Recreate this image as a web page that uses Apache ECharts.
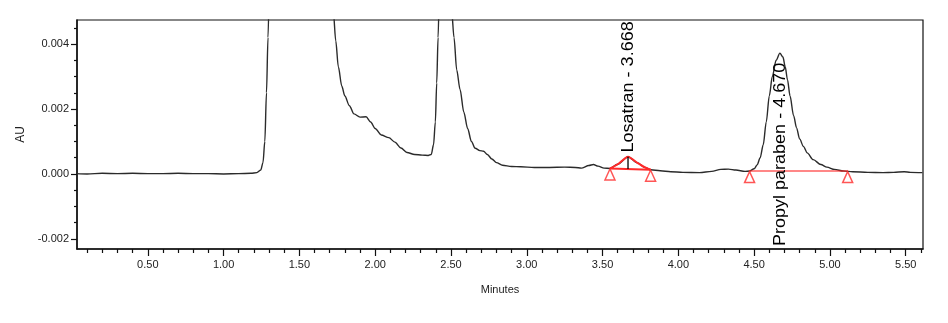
<!DOCTYPE html>
<html>
<head>
<meta charset="utf-8">
<script src="https://cdn.jsdelivr.net/npm/echarts@6.0.0/dist/echarts.min.js"></script>
<style>
  html, body { margin: 0; padding: 0; background: #fff; }
  #chart { width: 948px; height: 323px; }
</style>
</head>
<body>
<div id="chart"></div>
<script>
// detector trace (minutes / AU)
const minutes = [
  0.03, 0.10, 0.20, 0.30, 0.40, 0.50, 0.60, 0.70, 0.80, 0.90, 1.00, 1.10, 1.18, 1.22,
  1.245, 1.26, 1.272, 1.283, 1.293, 1.305, 1.33, 1.45, 1.60, 1.70, 1.724, 1.74, 1.757,
  1.78, 1.80, 1.83, 1.86, 1.90, 1.94, 1.97, 2.00, 2.04, 2.09, 2.13, 2.17, 2.21, 2.26,
  2.31, 2.35, 2.37, 2.385, 2.397, 2.406, 2.415, 2.425, 2.44, 2.47, 2.495, 2.505, 2.52,
  2.538, 2.56, 2.585, 2.61, 2.635, 2.66, 2.69, 2.715, 2.74, 2.77, 2.80, 2.84, 2.90,
  2.96, 3.05, 3.15, 3.25, 3.32, 3.36, 3.41, 3.44, 3.47, 3.51, 3.549, 3.60, 3.668,
  3.73, 3.78, 3.817, 3.88, 3.95, 4.03, 4.14, 4.22, 4.28, 4.33, 4.38, 4.44, 4.47, 4.50,
  4.52, 4.54, 4.56, 4.58, 4.60, 4.62, 4.645, 4.67, 4.69, 4.705, 4.72, 4.737, 4.76,
  4.78, 4.80, 4.825, 4.85, 4.89, 4.94, 4.98, 5.03, 5.09, 5.15, 5.25, 5.35, 5.42,
  5.49, 5.53, 5.61
];
const au = [
  0.00001, 0.00000, 0.00002, 0.00001, 0.00002, 0.00001, 0.00001, 0.00002, 0.00001, 0.00001, 0.00000, 0.00001, 0.00002, 0.00004,
  0.00012, 0.00035, 0.0010, 0.0025, 0.0042, 0.0065, 0.012, 0.03, 0.03, 0.009, 0.0050, 0.0041, 0.0033,
  0.0027, 0.0024, 0.0021, 0.00185, 0.00175, 0.00176, 0.0016, 0.0014, 0.0012, 0.00112, 0.00098, 0.0008, 0.00066, 0.00060,
  0.00058, 0.00057, 0.0006, 0.0009, 0.0016, 0.0028, 0.0042, 0.006, 0.012, 0.025, 0.008, 0.0050, 0.0042,
  0.0032, 0.0026, 0.0019, 0.0014, 0.0010, 0.00079, 0.00072, 0.0007, 0.0006, 0.00046, 0.00035, 0.00027, 0.00023,
  0.00022, 0.00020, 0.00020, 0.00021, 0.00020, 0.00018, 0.00026, 0.00029, 0.00024, 0.00018, 0.00017, 0.00030, 0.00053,
  0.00034, 0.00020, 0.00013, 0.00010, 0.00007, 0.00005, 0.00004, 0.00008, 0.00014, 0.00015, 0.00012, 0.00008, 0.00009, 0.00016,
  0.00028, 0.00050, 0.00090, 0.0016, 0.0024, 0.0030, 0.0035, 0.00372, 0.0036, 0.0033, 0.0029, 0.0024, 0.0018,
  0.00142, 0.00108, 0.00085, 0.00065, 0.00044, 0.00029, 0.00021, 0.00014, 0.00009, 0.00007, 0.00005, 0.00004, 0.00005,
  0.00007, 0.00005, 0.00004
];

// integrated peaks
const peakNames = ["Losatran", "Propyl paraben"];
const peakTimes = [3.668, 4.670];
const peakApex = [0.00053, 0.00372];
const peakStart = [3.549, 4.470];
const peakEnd = [3.817, 5.117];
const startLevel = [0.00017, 0.00009];
const endLevel = [0.00013, 0.00009];
const labelBottom = [0.00066, -0.00222]; // AU where the rotated name begins

// axis ticks
const xMajor = [0.5, 1.0, 1.5, 2.0, 2.5, 3.0, 3.5, 4.0, 4.5, 5.0, 5.5];
const xMinor = [0.1, 0.2, 0.3, 0.4, 0.6, 0.7, 0.8, 0.9, 1.1, 1.2, 1.3, 1.4, 1.6, 1.7, 1.8, 1.9,
  2.1, 2.2, 2.3, 2.4, 2.6, 2.7, 2.8, 2.9, 3.1, 3.2, 3.3, 3.4, 3.6, 3.7, 3.8, 3.9,
  4.1, 4.2, 4.3, 4.4, 4.6, 4.7, 4.8, 4.9, 5.1, 5.2, 5.3, 5.4, 5.6];
const yMajor = [-0.002, 0.000, 0.002, 0.004];
const yMinor = [-0.0015, -0.001, -0.0005, 0.0005, 0.001, 0.0015, 0.0025, 0.003, 0.0035, 0.0045];

const X_MIN = 0.033, X_MAX = 5.614;
const Y_MIN = -0.00231, Y_MAX = 0.00474;

const RED = "#ff2a2a";
const labelFont = { color: "#222", fontFamily: "Liberation Sans", fontSize: 11 };

const trace = minutes.map((t, i) => [t, au[i]]);

// red trace over the small peak
const smallPeak = trace.filter(p => p[0] >= peakStart[0] && p[0] <= peakEnd[0]);

const baselineSeries = peakNames.map((n, i) => ({
  type: "line",
  data: [[peakStart[i], startLevel[i]], [peakEnd[i], endLevel[i]]],
  showSymbol: false,
  silent: true,
  lineStyle: { color: RED, width: i === 0 ? 2 : 1.6, opacity: i === 0 ? 1 : 0.75 },
  z: 3
}));

const markers = [];
peakNames.forEach((n, i) => {
  markers.push([peakStart[i], startLevel[i]]);
  markers.push([peakEnd[i], endLevel[i]]);
});

const chart = echarts.init(document.getElementById("chart"));

chart.setOption({
  animation: false,
  backgroundColor: "#fff",
  grid: { left: 77, right: 25, top: 20, bottom: 74, show: true, borderColor: "#111", borderWidth: 1.2 },
  xAxis: [
    {
      type: "value", min: X_MIN, max: X_MAX, position: "bottom",
      name: "Minutes", nameLocation: "middle", nameGap: 35,
      nameTextStyle: { ...labelFont, fontSize: 11 },
      axisLine: { onZero: false, lineStyle: { color: "#111", width: 1.5 } },
      axisTick: { customValues: xMajor, length: 7, lineStyle: { color: "#111", width: 1.2 } },
      axisLabel: { customValues: xMajor, formatter: v => v.toFixed(2), margin: 10, ...labelFont },
      splitLine: { show: false }
    },
    {
      type: "value", min: X_MIN, max: X_MAX, position: "bottom",
      axisLine: { show: false, onZero: false },
      axisTick: { customValues: xMinor, length: 4, lineStyle: { color: "#111", width: 1.2 } },
      axisLabel: { show: false },
      splitLine: { show: false }
    }
  ],
  yAxis: [
    {
      type: "value", min: Y_MIN, max: Y_MAX, position: "left",
      name: "AU", nameLocation: "middle", nameGap: 40,
      nameTextStyle: { ...labelFont, fontSize: 12 },
      axisLine: { onZero: false, lineStyle: { color: "#111", width: 1.5 } },
      axisTick: { customValues: yMajor, length: 6, lineStyle: { color: "#111", width: 1.2 } },
      axisLabel: { customValues: yMajor, formatter: v => v.toFixed(3), margin: 8, ...labelFont },
      splitLine: { show: false }
    },
    {
      type: "value", min: Y_MIN, max: Y_MAX, position: "left",
      axisLine: { show: false, onZero: false },
      axisTick: { customValues: yMinor, length: 3, lineStyle: { color: "#111", width: 1.2 } },
      axisLabel: { show: false },
      splitLine: { show: false }
    }
  ],
  series: [
    {
      type: "line",
      data: trace,
      smooth: 0.3,
      smoothMonotone: "x",
      showSymbol: false,
      silent: true,
      clip: true,
      lineStyle: { color: "#2b2b2b", width: 1.4 },
      z: 2
    },
    ...baselineSeries,
    {
      type: "line",
      data: smallPeak,
      smooth: 0.2,
      showSymbol: false,
      silent: true,
      lineStyle: { color: RED, width: 2 },
      z: 4
    },
    {
      // drop line at the small peak apex
      type: "line",
      data: [[peakTimes[0], peakApex[0]], [peakTimes[0], (startLevel[0] + endLevel[0]) / 2]],
      showSymbol: false,
      silent: true,
      lineStyle: { color: "#000", width: 1.3 },
      z: 5
    },
    {
      type: "scatter",
      data: markers,
      symbol: "triangle",
      symbolSize: [10, 11],
      symbolOffset: [0, 6],
      silent: true,
      itemStyle: { color: "#fff", borderColor: RED, borderWidth: 1.5 },
      z: 6
    }
  ]
});

// rotated peak names, anchored on data coordinates
chart.setOption({
  graphic: peakNames.map((n, i) => {
    const p = chart.convertToPixel({ xAxisIndex: 0, yAxisIndex: 0 }, [peakTimes[i], labelBottom[i]]);
    return {
      type: "text",
      x: p[0],
      y: p[1],
      rotation: Math.PI / 2,
      scaleX: 1.06,
      z: 10,
      style: {
        text: n + " - " + peakTimes[i].toFixed(3),
        fontFamily: "Liberation Sans",
        fontSize: 17,
        fill: "#000",
        align: "left",
        verticalAlign: "middle"
      }
    };
  })
});
</script>
</body>
</html>
